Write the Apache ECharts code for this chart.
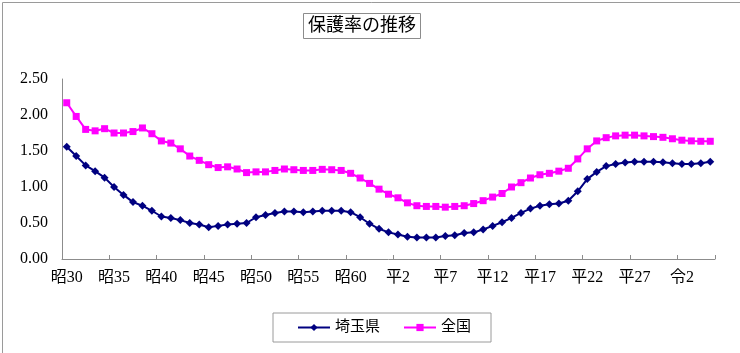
<!DOCTYPE html>
<html>
<head>
<meta charset="utf-8">
<script src="https://cdn.jsdelivr.net/npm/echarts@6/dist/echarts.min.js"></script>
<style>html,body{margin:0;padding:0;background:#fff}#c{width:740px;height:353px}</style>
</head>
<body>
<div id="c"></div>
<script>
var years = [];
(function(){
  for (var y = 1955; y <= 2023; y++) {
    if (y <= 1988) years.push('昭' + (y - 1925));
    else if (y <= 2018) years.push('平' + (y - 1988));
    else years.push('令' + (y - 2018));
  }
})();
var saitama = [1.56,1.43,1.30,1.22,1.13,1.00,0.89,0.79,0.74,0.67,
               0.59,0.57,0.54,0.50,0.48,0.44,0.46,0.48,0.49,0.50,
               0.58,0.61,0.64,0.66,0.66,0.65,0.66,0.67,0.67,0.67,
               0.65,0.58,0.49,0.42,0.37,0.34,0.31,0.30,0.30,0.30,
               0.32,0.33,0.36,0.37,0.41,0.46,0.51,0.57,0.64,0.70,
               0.74,0.76,0.77,0.81,0.94,1.11,1.21,1.29,1.32,1.34,
               1.35,1.35,1.35,1.345,1.33,1.32,1.32,1.33,1.35];
var zenkoku = [2.17,1.98,1.80,1.78,1.81,1.75,1.75,1.77,1.82,1.74,
               1.64,1.61,1.53,1.43,1.37,1.31,1.27,1.28,1.25,1.20,
               1.21,1.21,1.23,1.25,1.24,1.23,1.23,1.245,1.24,1.23,
               1.19,1.125,1.05,0.97,0.90,0.85,0.78,0.74,0.73,0.73,
               0.72,0.73,0.74,0.77,0.81,0.86,0.91,1.00,1.06,1.125,
               1.17,1.19,1.22,1.26,1.39,1.53,1.64,1.685,1.71,1.72,
               1.72,1.71,1.70,1.69,1.67,1.65,1.64,1.635,1.635];
var seriesNames = ['埼玉県', '全国'];
var titleText = '保護率の推移';

var FONT = '"Liberation Serif", "Noto Sans CJK JP", serif';
var chart = echarts.init(document.getElementById('c'), null, {renderer: 'canvas'});
chart.setOption({
  animation: false,
  backgroundColor: '#fff',
  graphic: [{
    type: 'rect', left: 0, top: 0,
    shape: {x: 0.5, y: 0.5, width: 739, height: 352},
    style: {fill: 'none', stroke: '#9a9a9a', lineWidth: 1},
    silent: true
  }],
  title: {
    text: titleText,
    left: 303, top: 13,
    padding: [4, 5, 4, 5],
    borderColor: '#8c8c8c', borderWidth: 1,
    textStyle: {fontFamily: FONT, fontSize: 18, fontWeight: 'normal', color: '#000'}
  },
  legend: {
    left: 273, top: 313,
    padding: [7, 20, 7, 24],
    borderColor: '#9a9a9a', borderWidth: 1,
    itemGap: 23, itemWidth: 32, itemHeight: 9,
    textStyle: {fontFamily: FONT, fontSize: 15, color: '#000'},
    data: seriesNames
  },
  grid: {left: 62, right: 25, top: 79, bottom: 94, containLabel: false},
  xAxis: {
    type: 'category',
    data: years,
    boundaryGap: true,
    axisLine: {lineStyle: {color: '#8c8c8c', width: 1}},
    axisTick: {show: true, inside: true, length: 4, interval: 4, lineStyle: {color: '#8c8c8c'}},
    axisLabel: {interval: 4, margin: 11, fontFamily: FONT, fontSize: 16, color: '#000'},
    splitLine: {show: false}
  },
  yAxis: {
    type: 'value', min: 0, max: 2.5, interval: 0.5,
    axisLine: {show: true, lineStyle: {color: '#8c8c8c', width: 1}},
    axisTick: {show: false},
    splitLine: {show: false},
    axisLabel: {margin: 14, fontFamily: FONT, fontSize: 16, color: '#000',
      formatter: function(v){ return v.toFixed(2); }}
  },
  series: [{
    name: seriesNames[0], type: 'line', data: saitama,
    symbol: 'diamond', symbolSize: 8, showAllSymbol: true,
    lineStyle: {color: '#000080', width: 2},
    itemStyle: {color: '#000080'}
  }, {
    name: seriesNames[1], type: 'line', data: zenkoku,
    symbol: 'rect', symbolSize: 7, showAllSymbol: true,
    lineStyle: {color: '#ff00ff', width: 2},
    itemStyle: {color: '#ff00ff'}
  }]
});
</script>
</body>
</html>
